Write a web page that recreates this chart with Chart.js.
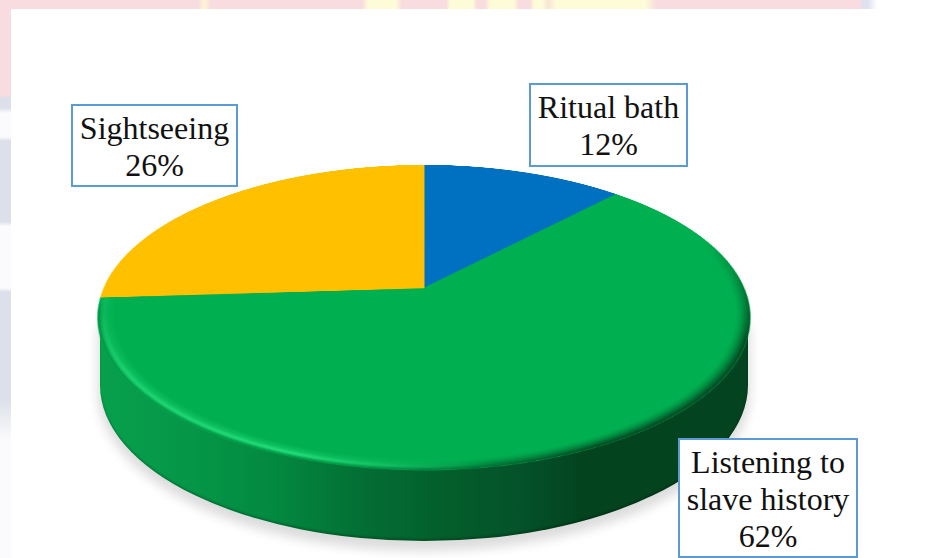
<!DOCTYPE html>
<html>
<head>
<meta charset="utf-8">
<title>Activities</title>
<script src="https://cdn.jsdelivr.net/npm/chart.js@4"></script>
<style>
  html, body { margin: 0; padding: 0; background: #fff; }
  #page { position: relative; width: 942px; height: 558px; overflow: hidden; background: #fff; }

  /* faded banner left over behind the white panel */
  #stripTop { position: absolute; left: 0; top: 0; width: 878px; height: 9px;
    background: linear-gradient(90deg, #f8dcdf 0, #f8dcdf 198px, #fdf6d4 204px, #f8dcdf 211px,
      #f8dcdf 362px, #fdfbd8 368px, #fdfbd8 396px, #f8dcdf 402px,
      #f8dcdf 446px, #fdfbd8 450px, #fdfbd8 473px, #f8dcdf 477px,
      #f8dcdf 485px, #fdfbd8 490px, #fdfbd8 514px, #f8dcdf 519px,
      #f8dcdf 530px, #fdfbd8 534px, #fdfbd8 543px, #f8e4d8 548px,
      #fdfbd8 556px, #fdfbd8 645px, #f8dcdf 657px, #f8dcdf 859px, #dfe2ee 863px, #dfe2ee 868px, #fff 877px); }
  #stripLeft { position: absolute; left: 0; top: 0; width: 11px; height: 558px;
    background: linear-gradient(180deg, #f8dcdf 0, #f8dcdf 95px, #dde0ea 98px, #dde0ea 108px, #fbfbfd 113px, #fbfbfd 137px, #dde0ea 141px, #dde0ea 222px, #fbfbfd 226px, #fbfbfd 288px, #dde0ea 292px, #dde0ea 400px, #fbfbfd 440px, #fbfbfd 558px); }

  /* side wall of the disc */
  #wall { position: absolute; left: 100px; top: 320px; width: 648px; height: 221px;
    border-radius: 0 0 324px 324px / 0 0 156px 156px;
    background: linear-gradient(90deg, #07a04c 0, #059648 90px, #038a40 170px, #036f34 260px, #035f2c 340px, #04522a 420px, #03441f 480px, #03431f 100%);
    box-shadow: 0 8px 11px 2px rgba(0,0,0,.14), inset 0 -2px 2px rgba(0,0,0,.22); }

  /* top face: the pie laid back in perspective */
  #topFace { position: absolute; left: 94px; top: -42px; width: 660px; height: 660px;
    transform-origin: 50% 50%;
    transform: perspective(1470px) rotateX(62.7deg); }

  .callout { position: absolute; box-sizing: border-box; background: #fff; border: 2px solid #5b9bd5;
    font-family: "Liberation Serif", serif; font-size: 32px; line-height: 37px; color: #111;
    text-align: center; white-space: pre; }
</style>
</head>
<body>
<div id="page">
  <div id="stripTop"></div>
  <div id="stripLeft"></div>
  <div id="wall"></div>
  <canvas id="topFace" width="660" height="660"></canvas>
  <div id="labels"></div>
</div>
<script>
const categories = ['Ritual bath', 'Listening to\nslave history', 'Sightseeing'];
const shares = [12, 62, 26];
const sliceColors = ['#0070c0', '#00b050', '#ffc000'];

// callout boxes: left, top, width, height
const calloutBoxes = [
  [529, 83, 159, 84],
  [678, 438, 180, 120],
  [71, 104, 167, 83]
];

// bevel strength from the outer edge inwards, one entry per 1.5px ring
const lightProfile = [0.1, 0.4, 0.8, 1, 0.85, 0.6, 0.42, 0.3, 0.2, 0.1];
const darkProfile = [1, 0.85, 0.7, 0.55, 0.42, 0.3, 0.2, 0.12, 0.05];

function strokeRings(ctx, x, y, radius, style, profile) {
  ctx.strokeStyle = style;
  ctx.lineWidth = 1.5;
  profile.forEach((strength, i) => {
    ctx.globalAlpha = strength;
    ctx.beginPath();
    ctx.arc(x, y, radius - 0.75 - i * 1.5, 0, Math.PI * 2);
    ctx.stroke();
  });
}

// soft bevel round the outer edge, light lower left and dark lower right
const bevelRim = {
  id: 'bevelRim',
  afterDatasetsDraw(chart) {
    const arc = chart.getDatasetMeta(0).data[0];
    const { x, y, outerRadius } = arc.getProps(['x', 'y', 'outerRadius'], true);
    const ctx = chart.ctx;

    const dark = ctx.createConicGradient(-Math.PI / 4, x, y);
    dark.addColorStop(0.07, 'rgba(0,50,25,0)');
    dark.addColorStop(0.18, 'rgba(0,50,25,.85)');
    dark.addColorStop(0.3, 'rgba(0,50,25,.85)');
    dark.addColorStop(0.4, 'rgba(0,70,35,.3)');
    dark.addColorStop(0.6, 'rgba(0,70,35,.3)');
    dark.addColorStop(0.614, 'rgba(0,70,35,0)');

    const light = ctx.createConicGradient(-Math.PI / 4, x, y);
    light.addColorStop(0.345, 'rgba(40,235,130,0)');
    light.addColorStop(0.43, 'rgba(40,235,130,.85)');
    light.addColorStop(0.54, 'rgba(40,235,130,.7)');
    light.addColorStop(0.612, 'rgba(40,235,130,.25)');
    light.addColorStop(0.615, 'rgba(40,235,130,0)');

    ctx.save();
    strokeRings(ctx, x, y, outerRadius, dark, darkProfile);
    strokeRings(ctx, x, y, outerRadius, light, lightProfile);
    ctx.restore();
  }
};

new Chart(document.getElementById('topFace'), {
  type: 'pie',
  data: {
    labels: categories,
    datasets: [{
      data: shares,
      backgroundColor: sliceColors,
      borderColor: sliceColors,
      borderWidth: 1
    }]
  },
  options: {
    responsive: false,
    animation: false,
    devicePixelRatio: 2,
    radius: 320,
    layout: { padding: 0 },
    plugins: { legend: { display: false }, tooltip: { enabled: false } }
  },
  plugins: [bevelRim]
});

const labelLayer = document.getElementById('labels');
categories.forEach((name, i) => {
  const [left, top, width, height] = calloutBoxes[i];
  const box = document.createElement('div');
  box.className = 'callout';
  box.style.left = left + 'px';
  box.style.top = top + 'px';
  box.style.width = width + 'px';
  box.style.height = height + 'px';
  box.style.paddingTop = ((height - 2 - 37 * (name.split('\n').length + 1)) / 2) + 'px';
  box.textContent = name + '\n' + shares[i] + '%';
  labelLayer.appendChild(box);
});
</script>
</body>
</html>
